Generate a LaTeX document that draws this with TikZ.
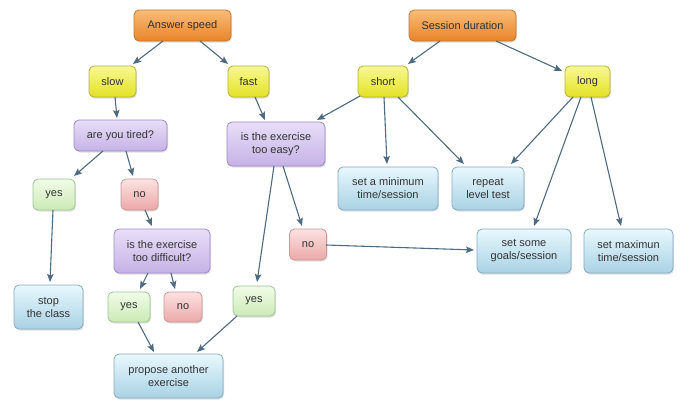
\documentclass[tikz,border=0pt]{standalone}
\usepackage{fontspec}
\setmainfont{Liberation Sans}
\usetikzlibrary{arrows.meta,shadows,calc}
\definecolor{txt}{HTML}{333333}
\definecolor{arrc}{HTML}{4F6B7F}
\definecolor{orT}{HTML}{F9BC78}\definecolor{orB}{HTML}{E8842A}\definecolor{orD}{HTML}{C4782C}
\definecolor{yeT}{HTML}{F8F894}\definecolor{yeB}{HTML}{E4E224}\definecolor{yeD}{HTML}{B4B23C}
\definecolor{puT}{HTML}{E8DEF8}\definecolor{puB}{HTML}{C6B2E6}\definecolor{puD}{HTML}{9C8CC4}
\definecolor{grT}{HTML}{F0FCE8}\definecolor{grB}{HTML}{CCEAB6}\definecolor{grD}{HTML}{A0C496}
\definecolor{piT}{HTML}{FDE2E2}\definecolor{piB}{HTML}{EBA8A8}\definecolor{piD}{HTML}{C89898}
\definecolor{blT}{HTML}{E8F8FE}\definecolor{blB}{HTML}{A9D2E4}\definecolor{blD}{HTML}{86ABC2}
\begin{document}
\begin{tikzpicture}[x=1pt,y=-1pt,
  box/.style={draw, rounded corners=5pt, line width=0.8pt, text=txt,
    font=\fontsize{11}{13}\selectfont, align=center, inner sep=0pt,
    drop shadow={shadow xshift=1pt, shadow yshift=-1.5pt, opacity=0.25, fill=gray}},
  orangebox/.style={box, draw=orD, top color=orT, bottom color=orB},
  yellowbox/.style={box, draw=yeD, top color=yeT, bottom color=yeB},
  purplebox/.style={box, draw=puD, top color=puT, bottom color=puB},
  greenbox/.style={box, draw=grD, top color=grT, bottom color=grB},
  pinkbox/.style={box, draw=piD, top color=piT, bottom color=piB},
  bluebox/.style={box, draw=blD, top color=blT, bottom color=blB},
  sz/.style n args={2}{minimum width=#1pt, minimum height=#2pt},
  arr/.style={draw=arrc, line width=1.1pt, -{Stealth[length=8pt,width=6.5pt,inset=1.5pt]}}
]
\useasboundingbox[fill=white] (0,0) rectangle (682,399);

\node[orangebox, sz={97}{31}] (as) at (182.5,25.5) {Answer speed};
\node[orangebox, sz={107}{31}] (sd) at (462.5,25.5) {Session duration};
\node[yellowbox, sz={47}{31}] (slow) at (112.5,81.5) {slow};
\node[yellowbox, sz={41}{31}] (fast) at (248.5,81.5) {fast};
\node[yellowbox, sz={50}{31}] (short) at (383,81.5) {short};
\node[yellowbox, sz={45}{31}] (long) at (587.5,81.5) {long};
\node[purplebox, sz={93}{31}] (tired) at (120.5,135.5) {are you tired?};
\node[purplebox, sz={98}{44}] (easy) at (276,144) {is the exercise\\too easy?};
\node[bluebox, sz={100}{43}] (setmin) at (388,188.5) {set a minimum\\time/session};
\node[bluebox, sz={72}{43}] (repeat) at (488,188.5) {repeat\\level test};
\node[greenbox, sz={42}{31}] (yes1) at (54,194.5) {yes};
\node[pinkbox, sz={37}{31}] (no1) at (139.5,194.5) {no};
\node[pinkbox, sz={37}{31}] (no2) at (308,244.5) {no};
\node[purplebox, sz={96}{44}] (diff) at (162,251) {is the exercise\\too difficult?};
\node[bluebox, sz={94}{44}] (goals) at (524,251) {set some\\goals/session};
\node[bluebox, sz={89}{44}] (max) at (628.5,251) {set maximun\\time/session};
\node[bluebox, sz={69}{44}] (stop) at (48.5,307) {stop\\the class};
\node[greenbox, sz={42}{30}] (yes2) at (129,307) {yes};
\node[pinkbox, sz={38}{30}] (no3) at (183,307) {no};
\node[greenbox, sz={42}{30}] (yes3) at (254,301) {yes};
\node[bluebox, sz={109}{44}] (prop) at (168.5,376) {propose another\\exercise};

\draw[arr] ($(as)+(-19.5,15.5)$) -- ($(slow)+(20.5,-17.5)$);
\draw[arr] ($(as)+(17.5,15.5)$) -- ($(fast)+(-20.5,-17.5)$);
\draw[arr] ($(sd)+(-22.5,15.5)$) -- ($(short)+(25,-17.5)$);
\draw[arr] ($(sd)+(33.5,15.5)$) -- ($(long)+(-25.5,-10.5)$);
\draw[arr] ($(slow)+(2.5,15.5)$) -- ($(tired)+(-3.5,-17.5)$);
\draw[arr] ($(fast)+(6.5,15.5)$) -- ($(easy)+(-11,-24)$);
\draw[arr] ($(short)+(-23,14.5)$) -- ($(easy)+(41,-24)$);
\draw[arr] ($(short)+(1,15.5)$) -- ($(setmin)+(-1,-24.5)$);
\draw[arr] ($(short)+(15,15.5)$) -- ($(repeat)+(-24,-24.5)$);
\draw[arr] ($(long)+(-14.5,15.5)$) -- ($(repeat)+(23,-24.5)$);
\draw[arr] ($(long)+(-6.5,15.5)$) -- ($(goals)+(10,-25)$);
\draw[arr] ($(long)+(3.5,15.5)$) -- ($(max)+(-7.5,-25)$);
\draw[arr] ($(tired)+(-17.5,15.5)$) -- ($(yes1)+(20,-18.5)$);
\draw[arr] ($(tired)+(5.5,15.5)$) -- ($(no1)+(-6.5,-18.5)$);
\draw[arr] ($(no1)+(5.5,15.5)$) -- ($(diff)+(-10,-25)$);
\draw[arr] ($(yes1)+(-1,15.5)$) -- ($(stop)+(1.5,-25)$);
\draw[arr] ($(easy)+(7,22)$) -- ($(no2)+(-6,-18.5)$);
\draw[arr] ($(easy)+(-2,22)$) -- ($(yes3)+(3,-19)$);
\draw[arr] ($(diff)+(-14,22)$) -- ($(yes2)+(11,-18)$);
\draw[arr] ($(diff)+(9,22)$) -- ($(no3)+(-8,-18)$);
\draw[arr] ($(yes2)+(9,15)$) -- ($(prop)+(-14.5,-24)$);
\draw[arr] ($(yes3)+(-17,15)$) -- ($(prop)+(28.5,-24)$);
\draw[arr] ($(no2)+(18,0.5)$) -- ($(goals)+(-50,-1)$);
\end{tikzpicture}
\end{document}
